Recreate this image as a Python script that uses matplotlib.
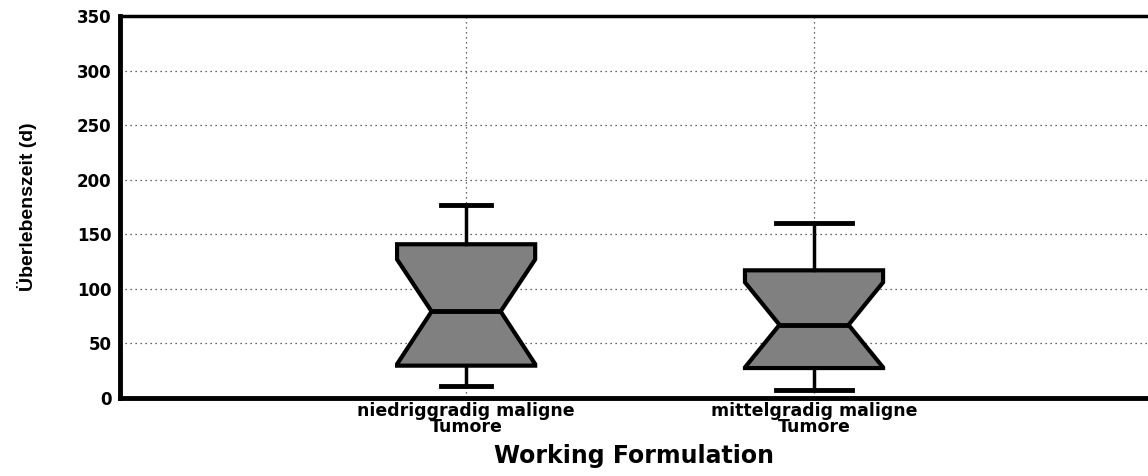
import matplotlib.pyplot as plt

categories = ['niedriggradig maligne\nTumore', 'mittelgradig maligne\nTumore']
whislo = [10.7, 7.3]
q1 = [29.6, 27.4]
med = [79.3, 67.0]
q3 = [140.9, 117.0]
whishi = [176.8, 160.7]
ci_lo = [31.0, 28.0]
ci_hi = [127.0, 106.0]
yticks = [0, 50, 100, 150, 200, 250, 300, 350]

stats = []
for i in range(len(categories)):
    stats.append({'label': categories[i], 'whislo': whislo[i], 'q1': q1[i], 'med': med[i],
                  'q3': q3[i], 'whishi': whishi[i], 'cilo': ci_lo[i], 'cihi': ci_hi[i],
                  'fliers': []})

fig = plt.figure(figsize=(11.48, 4.76), dpi=100)
ax = fig.add_axes([0.1045, 0.164, 0.8955, 0.802])

ax.bxp(stats, positions=[1, 2], widths=0.397, shownotches=True, patch_artist=True,
       capwidths=[0.144, 0.216],
       boxprops=dict(facecolor='#808080', edgecolor='black', linewidth=3),
       medianprops=dict(color='black', linewidth=3.5),
       whiskerprops=dict(color='black', linewidth=2.5),
       capprops=dict(color='black', linewidth=3.5))

ax.set_xlim(0.005, 2.96)
ax.set_ylim(0, 350)
ax.set_yticks(yticks)
ax.set_xticks([1, 2])
ax.set_xticklabels(categories, fontsize=12.5, fontweight='bold', family='DejaVu Sans',
                   linespacing=0.85)
for lab in ax.get_yticklabels():
    lab.set_fontsize(12)
    lab.set_fontweight('bold')
    lab.set_family('DejaVu Sans')
ax.tick_params(length=0)
ax.tick_params(axis='y', pad=6)
ax.tick_params(axis='x', pad=3)

ax.grid(True, color='black', linestyle=(0, (1, 3)), linewidth=0.9, alpha=0.8)
ax.set_axisbelow(True)

ax.spines['right'].set_visible(False)
ax.spines['left'].set_linewidth(3.5)
ax.spines['bottom'].set_linewidth(3.5)
ax.spines['top'].set_linewidth(2.5)

ax.set_ylabel('Überlebenszeit (d)', fontsize=14, family='Liberation Sans', fontweight='bold')
ax.yaxis.set_label_coords((37 - 120) / 1028, 0.5)
ax.set_xlabel('Working Formulation', fontsize=17, fontweight='bold', family='DejaVu Sans',
              labelpad=6)

fig.savefig('out.png', dpi=100)
